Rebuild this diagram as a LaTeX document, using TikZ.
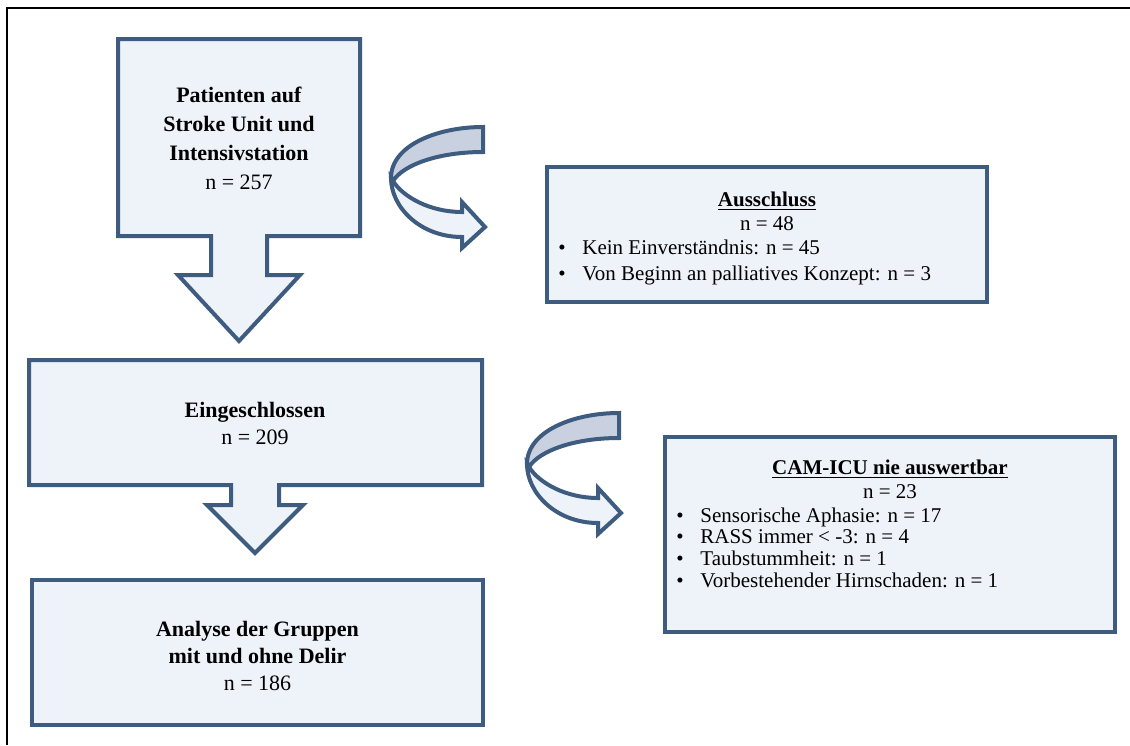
\documentclass[tikz,border=0pt]{standalone}
\usepackage{fontspec}
\setmainfont{Liberation Serif}
\definecolor{boxline}{HTML}{3E5B80}
\definecolor{boxfill}{HTML}{EEF2F9}
\definecolor{bandfill}{HTML}{C9D1E0}
\newcommand{\itm}{\makebox[12pt][l]{\textbullet}}
\tikzset{
  shape line/.style={draw=boxline, line width=2pt, fill=boxfill},
  big text/.style={font=\fontsize{11}{13.5}\selectfont, align=center, inner sep=0pt},
  small text/.style={font=\fontsize{10.5}{12}\selectfont, align=center, inner sep=0pt},
  list text/.style={align=left, inner sep=0pt, anchor=west},
  curved arrow/.pic={
    \draw[shape line] (-92,51) .. controls (-92,80) and (-63,110) .. (-21,110)
      -- (-21,121) -- (2,100) -- (-21,75) -- (-21,85)
      .. controls (-53,85) and (-80,70) .. (-90,54) -- cycle;
    \draw[shape line, fill=bandfill] (0,0) .. controls (-45,0) and (-92,18) .. (-92,51)
      -- (-90,54) .. controls (-80,38) and (-45,25) .. (0,25) -- cycle;
  }
}
\begin{document}
\begin{tikzpicture}[x=0.5pt, y=-0.5pt]
  \useasboundingbox (0,0) rectangle (1130,745);
  \draw[line width=1pt] (7,745) -- (7,8) -- (1130,8);

  % linke Spalte
  \draw[shape line] (118,39) -- (360,39) -- (360,236) -- (267,236) -- (267,275) -- (300,275)
    -- (239,341) -- (178,275) -- (211,275) -- (211,236) -- (118,236) -- cycle;
  \node[big text, font=\fontsize{11}{14.5}\selectfont] (patienten) at (239,138)
    {\textbf{Patienten auf}\\\textbf{Stroke Unit und}\\\textbf{Intensivstation}\\n = 257};

  \draw[shape line] (29,360) -- (482,360) -- (482,485) -- (279,485) -- (279,505) -- (303,505)
    -- (255,553) -- (207,505) -- (231,505) -- (231,485) -- (29,485) -- cycle;
  \node[big text] (eingeschlossen) at (255,423) {\textbf{Eingeschlossen}\\n = 209};

  \node[shape line, minimum width=225.5pt, minimum height=72.5pt] (analysebox) at (257.5,652.5) {};
  \node[big text] (analyse) at (257.5,656)
    {\textbf{Analyse der Gruppen}\\\textbf{mit und ohne Delir}\\n = 186};

  % Ausschluesse
  \pic at (483,127) {curved arrow};
  \pic at (619,413) {curved arrow};

  \node[shape line, minimum width=220pt, minimum height=67.5pt] (ausschluss) at (767,234.5) {};
  \node[small text] (ausschlusstitel) at (767,211) {\textbf{\underline{Ausschluss}}\\n = 48};
  \node[list text, font=\fontsize{10.5}{13}\selectfont] (ausschlussliste) at (558,262)
    {\itm Kein Einverständnis: n = 45\\\itm Von Beginn an palliatives Konzept: n = 3};

  \node[shape line, minimum width=225pt, minimum height=97.5pt] (cam) at (890,534.5) {};
  \node[small text] (camtitel) at (890,479) {\textbf{\underline{CAM-ICU nie auswertbar}}\\n = 23};
  \node[list text, font=\fontsize{10.5}{10.85}\selectfont] (camliste) at (676,547.5)
    {\itm Sensorische Aphasie: n = 17\\\itm RASS immer < -3: n = 4\\\itm Taubstummheit: n = 1\\\itm Vorbestehender Hirnschaden: n = 1};
\end{tikzpicture}
\end{document}
